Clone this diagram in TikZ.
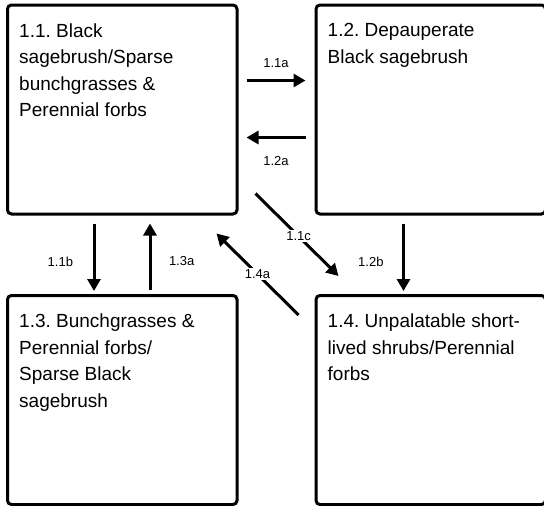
\documentclass[tikz,border=0pt]{standalone}
\usepackage{fontspec}
\setmainfont{Liberation Sans}
\usetikzlibrary{arrows.meta,calc}
\frenchspacing
\begin{document}
\begin{tikzpicture}[x=1pt,y=1pt,
  statebox/.style={draw=black,line width=3pt,rounded corners=4pt,minimum width=229.5pt,minimum height=209pt,inner sep=0pt},
  boxtext/.style={anchor=north west,inner sep=0pt,align=left,font=\frenchspacing\fontsize{19}{26.5}\selectfont},
  arr/.style={line width=3pt,-{Triangle[length=12pt,width=13pt]}},
  lab/.style={font=\fontsize{13}{15}\selectfont,inner sep=1.5pt}
]
\useasboundingbox (0,0) rectangle (544,-506);
\begin{scope}
\clip (0,0) rectangle (544,-506);
\node[statebox] (b11) at (122.25,-109.5) {};
\node[statebox] (b12) at (430.75,-109.5) {};
\node[statebox] (b13) at (122.25,-400) {};
\node[statebox] (b14) at (430.75,-400) {};
\end{scope}

\node[boxtext] (t11) at ($(b11.north west)+(13,-20)$) {1.1. Black\\sagebrush/Sparse\\bunchgrasses \&\\Perennial forbs};
\node[boxtext] (t12) at ($(b12.north west)+(13,-20)$) {1.2. Depauperate\\Black sagebrush};
\node[boxtext] (t13) at ($(b13.north west)+(13,-20)$) {1.3. Bunchgrasses \&\\Perennial forbs/\\Sparse Black\\sagebrush};
\node[boxtext] (t14) at ($(b14.north west)+(13,-20)$) {1.4. Unpalatable short-\\lived shrubs/Perennial\\forbs};

% 1.1a
\draw[arr] ($(b11.north east)+(8,-77)$) -- node[lab,above=10pt] (l11a) {1.1a} ($(b12.north west)+(-9,-77)$);
% 1.2a
\draw[arr] ($(b12.north west)+(-9,-134)$) -- node[lab,below=16pt] (l12a) {1.2a} ($(b11.north east)+(8,-134)$);
% 1.1b
\draw[arr] ($(b11.south west)+(88,-8)$) -- node[lab,pos=0.57,left=18pt] (l11b) {1.1b} ($(b13.north west)+(88,3)$);
% 1.3a
\draw[arr] ($(b13.north west)+(144,4)$) -- node[lab,pos=0.43,right=16pt] (l13a) {1.3a} ($(b11.south west)+(144,-8)$);
% 1.2b
\draw[arr] ($(b12.south west)+(89,-8)$) -- node[lab,pos=0.57,left=17pt] (l12b) {1.2b} ($(b14.north west)+(89,3)$);
% 1.1c
\draw[arr] ($(b11.south east)+(17,22)$) -- node[lab,fill=white,pos=0.52] (l11c) {1.1c} ($(b14.north west)+(24,18)$);
% 1.4a
\draw[arr] ($(b14.north west)+(-16,-21)$) -- node[lab,fill=white,pos=0.5] (l14a) {1.4a} ($(b11.south east)+(-22,-18)$);
\end{tikzpicture}
\end{document}
